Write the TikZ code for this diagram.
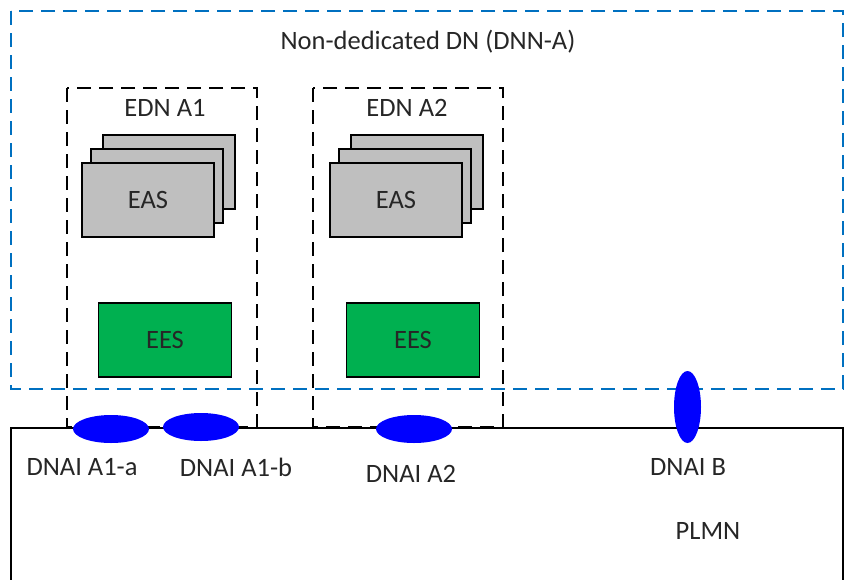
\documentclass[tikz,border=0pt]{standalone}
\usepackage{fontspec}
\setmainfont{Carlito}
\usetikzlibrary{positioning,shapes.geometric}

\definecolor{dnblue}{RGB}{0,112,192}
\definecolor{dnaiblue}{RGB}{0,0,255}
\definecolor{easgray}{RGB}{191,191,191}
\definecolor{eesgreen}{RGB}{0,176,80}
\definecolor{txtgray}{RGB}{38,38,38}

\begin{document}
\begin{tikzpicture}[
    x=1pt, y=-1pt,
    every node/.style={font=\fontsize{26.5}{31}\selectfont, text=txtgray},
    dnframe/.style={draw=dnblue, line width=1.5pt, dash pattern=on 14pt off 8pt},
    ednframe/.style={draw=black, line width=1.6pt, dash pattern=on 14pt off 8pt},
    plmnline/.style={draw=black, line width=1.5pt},
    easbox/.style={draw, fill=easgray, line width=1.3pt, minimum width=132pt, minimum height=74pt, inner sep=0pt},
    eesbox/.style={draw, fill=eesgreen, line width=1.3pt, minimum width=133pt, minimum height=74pt, inner sep=0pt},
    dnai/.style={ellipse, fill=dnaiblue, minimum width=76pt, minimum height=28pt, inner sep=0pt}
]
\clip (0,0) rectangle (846,579);

% data network and PLMN
\draw[dnframe] (11,11) rectangle (843,389);
\node (dnlabel) at (428,42) {Non-dedicated DN (DNN-A)};
\draw[plmnline] (11,590) -- (11,428) -- (843,428) -- (843,590);
\node (plmn) at (708,531) {PLMN};

% edge data networks
\foreach \i/\dx/\sx/\lx in {1/0/0/165, 2/246/248/407} {
    \draw[ednframe] (67+\dx,88) rectangle (257+\dx,427);
    \node (ednlabel\i) at (\lx,108) {EDN A\i};
    \node[easbox] (easback\i) at (169+\sx,172) {};
    \node[easbox] (easmid\i) at (157+\sx,186) {};
    \node[easbox] (eas\i) at (148+\sx,200) {EAS};
    \node[eesbox] (ees\i) at (165+\sx,340) {EES};
}

% DNAIs
\node[dnai] (dnaiA1a) at (111,429) {};
\node[dnai] (dnaiA1b) at (201,427) {};
\node[dnai] (dnaiA2) at (414,429) {};
\node[dnai, minimum width=27pt, minimum height=72pt] (dnaiB) at (687.5,407) {};

\node (lblA1a) at (82,467) {DNAI A1-a};
\node (lblA1b) at (236,467) {DNAI A1-b};
\node (lblA2) at (411,474) {DNAI A2};
\node (lblB) at (688,467) {DNAI B};
\end{tikzpicture}
\end{document}
